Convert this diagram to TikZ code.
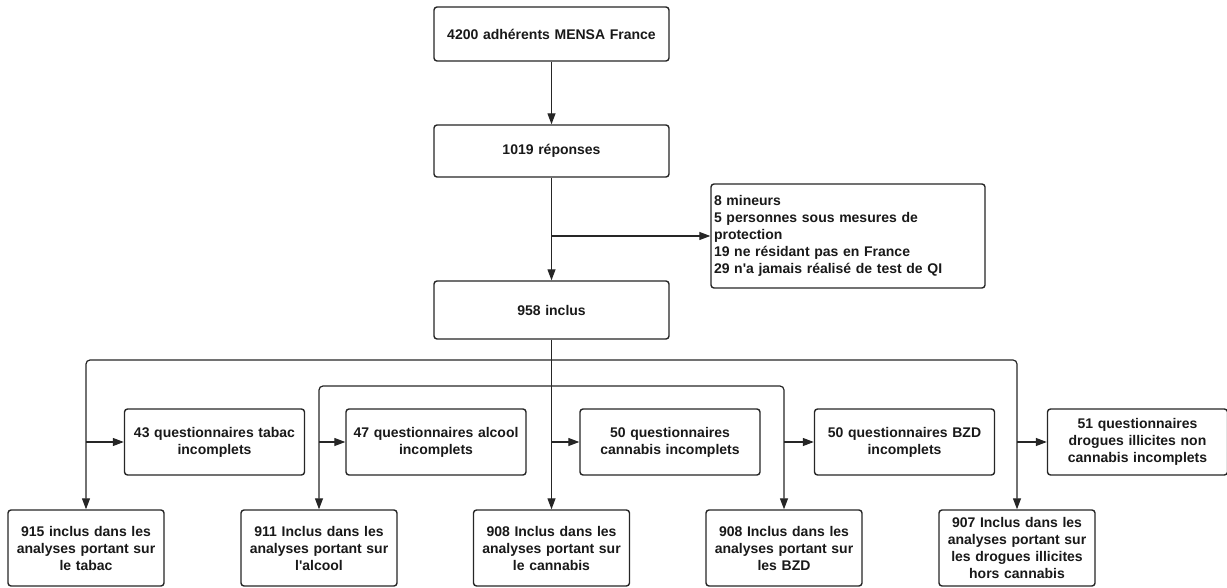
\documentclass[tikz,border=0pt]{standalone}
\usepackage{fontspec}
\setmainfont{Liberation Sans}
\usetikzlibrary{arrows.meta}
\begin{document}
\begin{tikzpicture}[x=1pt,y=-1pt,
  box/.style={draw=black!85, line width=1.4pt, rounded corners=3pt, fill=white,
    inner sep=2pt, align=center, font=\fontsize{14}{17}\selectfont\bfseries, text=black!90},
  arr/.style={line width=1.2pt, draw=black!85, -{Triangle[length=11pt,width=8pt]}},
  ln/.style={line width=1.2pt, draw=black!85}]
\useasboundingbox (0,0) rectangle (1227,588);
% top chain
\node[box, minimum width=235pt, minimum height=54pt, text width=228pt] (b1) at (551.5,34) {4200 adhérents MENSA France};
\node[box, minimum width=235pt, minimum height=52pt, text width=228pt] (b2) at (551.5,151) {1019 réponses};
\node[box, minimum width=235pt, minimum height=58pt, text width=228pt] (b3) at (551.5,310) {958 inclus};
\node[box, minimum width=274pt, minimum height=104pt, text width=268pt, align=left, inner sep=3pt] (ex) at (848,236)
  {8 mineurs\\5 personnes sous mesures de\\protection\\19 ne résidant pas en France\\29 n\textquotesingle a jamais réalisé de test de QI};
% questionnaire boxes
\tikzset{qbox/.style={box, minimum width=179pt, minimum height=66pt, text width=176pt}}
\node[qbox] (qa) at (214.5,442) {43 questionnaires tabac\\incomplets};
\node[qbox] (qb) at (436,442) {47 questionnaires alcool\\incomplets};
\node[qbox] (qc) at (670,442) {50 questionnaires\\cannabis incomplets};
\node[qbox] (qd) at (904.5,442) {50 questionnaires BZD\\incomplets};
\node[qbox] (qe) at (1137.5,442) {51 questionnaires\\drogues illicites non\\cannabis incomplets};
% result boxes
\tikzset{rbox/.style={box, minimum width=154pt, minimum height=76pt, text width=152pt}}
\node[rbox] (r1) at (86,548) {915 inclus dans les\\analyses portant sur\\le tabac};
\node[rbox] (r2) at (319,548) {911 Inclus dans les\\analyses portant sur\\l\textquotesingle alcool};
\node[rbox] (r3) at (551.5,548) {908 Inclus dans les\\analyses portant sur\\le cannabis};
\node[rbox] (r4) at (784,548) {908 Inclus dans les\\analyses portant sur\\les BZD};
\node[rbox] (r5) at (1017,548) {907 Inclus dans les\\analyses portant sur\\les drogues illicites\\hors cannabis};
% junctions
\coordinate (jx) at (551.5,236);
\coordinate (j1) at (551.5,360);
\coordinate (j2) at (551.5,386);
% connectors
\draw[arr] (b1) -- (b2);
\draw[arr] (b2) -- (b3);
\draw[arr] (jx) -- (ex.west);
\draw[arr] (b3) -- (r3);
\draw[arr, rounded corners=4pt] (j1) -| (r1.north);
\draw[arr, rounded corners=4pt] (j1) -| (r5.north);
\draw[arr, rounded corners=4pt] (j2) -| (r2.north);
\draw[arr, rounded corners=4pt] (j2) -| (r4.north);
\draw[arr] (r1.north |- qa.west) -- (qa.west);
\draw[arr] (r2.north |- qb.west) -- (qb.west);
\draw[arr] (r3.north |- qc.west) -- (qc.west);
\draw[arr] (r4.north |- qd.west) -- (qd.west);
\draw[arr] (r5.north |- qe.west) -- (qe.west);
\end{tikzpicture}
\end{document}
